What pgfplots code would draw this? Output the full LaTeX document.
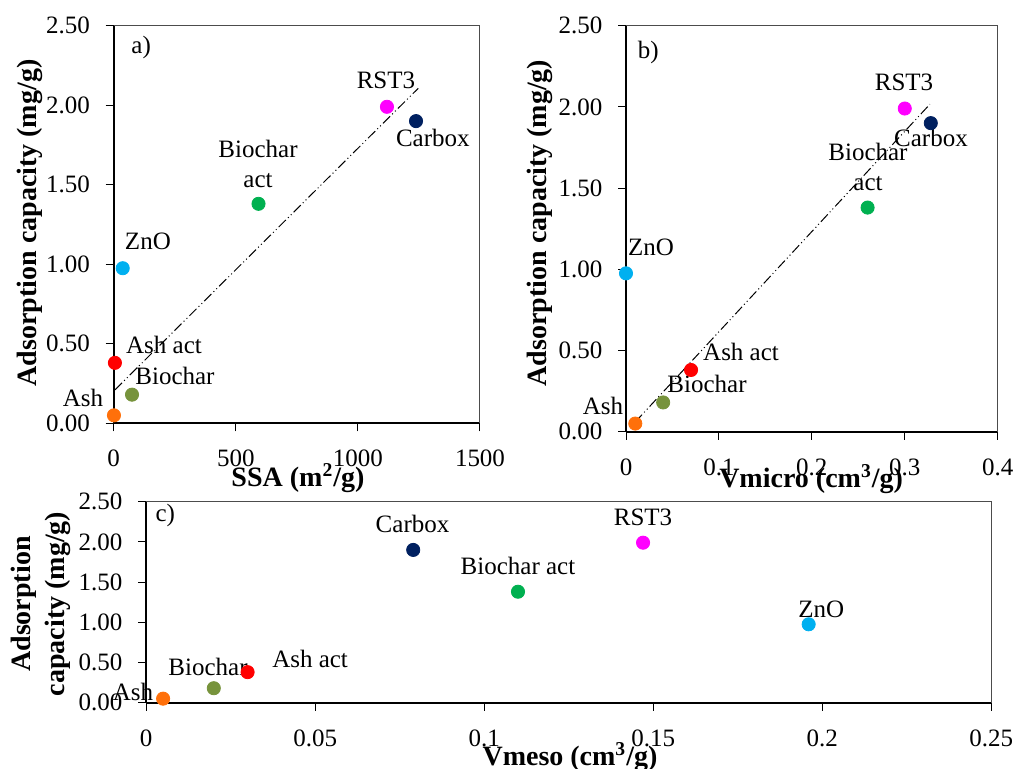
\documentclass[border=0pt]{standalone}
\usepackage{fontspec}
\setmainfont{Liberation Serif}
\usepackage{pgfplots}
\pgfplotsset{compat=1.18}
\usepackage{pgfplotstable}

\definecolor{cash}{RGB}{255,112,10}
\definecolor{cashact}{RGB}{255,0,0}
\definecolor{cbio}{RGB}{119,147,60}
\definecolor{cbioact}{RGB}{0,176,80}
\definecolor{czno}{RGB}{0,176,240}
\definecolor{crst}{RGB}{255,0,255}
\definecolor{ccarb}{RGB}{0,32,96}

% material  SSA  Vmicro  Vmeso  capacity
\pgfplotstableread{
name    ssa   micro  meso   cap
Ash     1     0.010  0.005  0.05
AshAct  5     0.070  0.030  0.38
Bio     75    0.040  0.020  0.18
BioAct  593   0.260  0.110  1.38
ZnO     37    0.000  0.196  0.975
RST     1119  0.300  0.147  1.99
Carb    1238  0.328  0.079  1.90
}\mydata

\pgfplotsset{
  panel/.style={
    scale only axis,
    axis lines=left,
    axis line style={-, line width=1pt, black},
    tick align=outside,
    major tick length=4pt,
    tick style={black, line width=0.5pt},
    ymin=0, ymax=2.5,
    ytick={0,0.5,1,1.5,2,2.5},
    yticklabel style={/pgf/number format/fixed, /pgf/number format/zerofill,
      /pgf/number format/precision=2, xshift=-3.5pt},
    xticklabel style={yshift=-5pt},
    /pgf/number format/assume math mode=true,
    /pgf/number format/1000 sep={},
    label style={font=\fontsize{14}{17}\selectfont\bfseries},
    clip=false,
    scatter/classes={
      Ash={mark=*, fill=cash, draw=cash},
      AshAct={mark=*, fill=cashact, draw=cashact},
      Bio={mark=*, fill=cbio, draw=cbio},
      BioAct={mark=*, fill=cbioact, draw=cbioact},
      ZnO={mark=*, fill=czno, draw=czno},
      RST={mark=*, fill=crst, draw=crst},
      Carb={mark=*, fill=ccarb, draw=ccarb}},
  },
  trend/.style={black, line width=0.5pt,
    dash pattern=on 5pt off 1.5pt on 0.5pt off 1.5pt on 0.5pt off 1.5pt},
}

\begin{document}
\fontsize{12.5}{15}\selectfont
\begin{tikzpicture}[font=\fontsize{12.5}{15}\selectfont]
\path[use as bounding box] (0,0) rectangle (507pt,384.5pt);

% a) SSA
\begin{axis}[panel, at={(56.85pt,172.85pt)}, anchor=south west,
  width=183.15pt, height=198.8pt,
  xmin=0, xmax=1500, xtick={0,500,1000,1500},
  xlabel={SSA (m\textsuperscript{2}/g)},
  ylabel={Adsorption capacity (mg/g)},
  xlabel style={at={(axis description cs:0.503,-0.1376)}, anchor=center},
  ylabel style={at={(axis description cs:-0.2285,0.504)}, anchor=center},
]
\draw[black!70, line width=0.5pt] (rel axis cs:0,1) -- (rel axis cs:1,1) -- (rel axis cs:1,0);
\addplot[trend] coordinates {(5,0.21) (1247,2.106)};
\addplot[scatter, only marks, mark size=3.3pt, scatter src=explicit symbolic]
  table[x=ssa, y=cap, meta=name] {\mydata};
\node at (axis cs:1115,2.159) {RST3};
\node at (axis cs:1307,1.794) {Carbox};
\node[align=center] at (axis cs:591,1.63) {Biochar\\act};
\node at (axis cs:140,1.146) {ZnO};
\node at (axis cs:206,0.492) {Ash act};
\node at (axis cs:251,0.297) {Biochar};
\node at (axis cs:-126,0.159) {Ash};
\node at (rel axis cs:0.075,0.945) {a)};
\end{axis}

% b) Vmicro
\begin{axis}[panel, at={(313pt,168.65pt)}, anchor=south west,
  width=185.85pt, height=203pt,
  xmin=0, xmax=0.4, xtick={0,0.1,0.2,0.3,0.4},
  xlabel={Vmicro (cm\textsuperscript{3}/g)},
  ylabel={Adsorption capacity (mg/g)},
  xlabel style={at={(axis description cs:0.498,-0.1165)}, anchor=center},
  ylabel style={at={(axis description cs:-0.231,0.514)}, anchor=center},
]
\draw[black!70, line width=0.5pt] (rel axis cs:0,1) -- (rel axis cs:1,1) -- (rel axis cs:1,0);
\addplot[trend] coordinates {(0.01,0.06) (0.327,2.016)};
\addplot[scatter, only marks, mark size=3.3pt, scatter src=explicit symbolic]
  table[x=micro, y=cap, meta=name] {\mydata};
\node at (axis cs:0.2992,2.153) {RST3};
\node at (axis cs:0.3282,1.808) {Carbox};
\node[align=center] at (axis cs:0.2604,1.63) {Biochar\\act};
\node at (axis cs:0.0269,1.137) {ZnO};
\node at (axis cs:0.1238,0.491) {Ash act};
\node at (axis cs:0.0872,0.294) {Biochar};
\node at (axis cs:-0.0248,0.158) {Ash};
\node at (rel axis cs:0.06,0.935) {b)};
\end{axis}

% c) Vmeso
\begin{axis}[panel, at={(73.1pt,33.15pt)}, anchor=south west,
  width=422.5pt, height=100.5pt,
  xmin=0, xmax=0.25, xtick={0,0.05,0.1,0.15,0.2,0.25},
  xticklabel style={/pgf/number format/fixed, /pgf/number format/precision=2},
  xlabel={Vmeso (cm\textsuperscript{3}/g)},
  ylabel={Adsorption\\capacity (mg/g)},
  xlabel style={at={(axis description cs:0.5015,-0.27)}, anchor=center},
  ylabel style={at={(axis description cs:-0.1245,0.491)}, anchor=center, align=center},
]
\draw[black!70, line width=0.5pt] (rel axis cs:0,1) -- (rel axis cs:1,1) -- (rel axis cs:1,0);
\addplot[scatter, only marks, mark size=3.3pt, scatter src=explicit symbolic]
  table[x=meso, y=cap, meta=name] {\mydata};
\node at (axis cs:0.0788,2.229) {Carbox};
\node at (axis cs:0.147,2.303) {RST3};
\node at (axis cs:0.110,1.706) {Biochar act};
\node at (axis cs:0.1997,1.159) {ZnO};
\node at (axis cs:0.0485,0.544) {Ash act};
\node at (axis cs:0.0183,0.445) {Biochar};
\node at (axis cs:-0.0039,0.134) {Ash};
\node at (rel axis cs:0.0225,0.93) {c)};
\end{axis}
\end{tikzpicture}
\end{document}
